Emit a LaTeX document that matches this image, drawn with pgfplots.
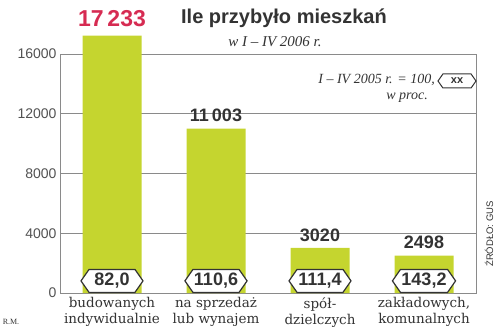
\documentclass[border=0pt]{standalone}
\usepackage{fontspec}
\setmainfont{Liberation Sans}
\newfontfamily\serifit{Liberation Serif}
\newfontfamily\slabf{DejaVu Serif}
\usepackage{pgfplots}
\pgfplotsset{compat=1.18}
\usetikzlibrary{shapes.symbols}
\definecolor{barg}{HTML}{C5D52F}
\definecolor{redv}{HTML}{D62B52}
\definecolor{dk}{HTML}{333333}
\definecolor{ax}{HTML}{8A8A8A}
\tikzset{hexa/.style={signal, signal to=west and east, signal pointer angle=110, draw=dk, fill=white, line width=1.2pt, inner sep=1pt, text=dk}}
\begin{document}
\begin{tikzpicture}[x=1pt,y=1pt]
\useasboundingbox (0,0) rectangle (500,332);
\begin{axis}[
 at={(60pt,39pt)}, anchor=south west, scale only axis, width=416pt, height=239pt,
 xmin=-0.5, xmax=3.5, ymin=0, ymax=16000,
 xtick={0,1,2,3},
 xticklabels={budowanych\\indywidualnie, na sprzedaż\\lub wynajem, spół-\\dzielczych, {zakładowych,\\komunalnych}},
 xticklabel style={align=center, font=\slabf\fontsize{13.5}{16}\selectfont, text=dk, yshift=-1pt},
 ytick={0,4000,8000,12000,16000},
 scaled y ticks=false,
 yticklabel style={font=\fontsize{14}{14}\selectfont, text=dk!85},
 /pgf/number format/assume math mode=true,
 /pgf/number format/1000 sep={},
 ymajorgrids, grid style={ax, line width=0.8pt},
 axis line style={ax, line width=0.8pt},
 major tick length=0pt,
 clip=false,
]
\addplot[ybar, bar width=59pt, fill=barg, draw=none] coordinates {(0,17233) (1,11003) (2,3020) (3,2498)};
\addplot[draw=none, mark=none, point meta=explicit symbolic, nodes near coords,
  every node near coord/.append style={anchor=center, yshift=17pt, text=redv, font=\bfseries\fontsize{23}{23}\selectfont}]
  coordinates {(0,17233) [17\,233]};
\addplot[draw=none, mark=none, point meta=explicit symbolic, nodes near coords,
  every node near coord/.append style={anchor=center, yshift=13pt, text=dk, font=\bfseries\fontsize{18}{18}\selectfont}]
  coordinates {(1,11003) [11\,003] (2,3020) [3020] (3,2498) [2498]};
\addplot[draw=none, mark=none, point meta=explicit symbolic, nodes near coords,
  every node near coord/.append style={hexa, anchor=south, minimum width=62pt, minimum height=23pt, font=\bfseries\fontsize{18}{18}\selectfont}]
  coordinates {(0,0) [82,0] (1,0) [110,6] (2,0) [111,4] (3,0) [143,2]};
\end{axis}
\node[font=\bfseries\fontsize{20}{20}\selectfont, text=dk] at (284,314) {Ile przybyło mieszkań};
\node[font=\serifit\itshape\fontsize{15}{15}\selectfont, text=dk] at (275,290) {w I – IV 2006 r.};
\node[anchor=east, inner sep=0pt, font=\serifit\itshape\fontsize{14}{14}\selectfont, text=dk] at (435,252) {I – IV 2005 r. = 100,};
\node[anchor=east, inner sep=0pt, font=\serifit\itshape\fontsize{14}{14}\selectfont, text=dk] at (428,234) {w proc.};
\node[hexa, line width=1pt, minimum width=38pt, minimum height=14pt, font=\bfseries\fontsize{11}{11}\selectfont] at (457,251) {xx};
\node[rotate=90, font=\fontsize{9.5}{9.5}\selectfont, text=dk] at (489,98) {ŹRÓDŁO: GUS};
\node[font=\serifit\fontsize{8}{8}\selectfont, text=dk] at (11,10) {R.M.};
\end{tikzpicture}
\end{document}
